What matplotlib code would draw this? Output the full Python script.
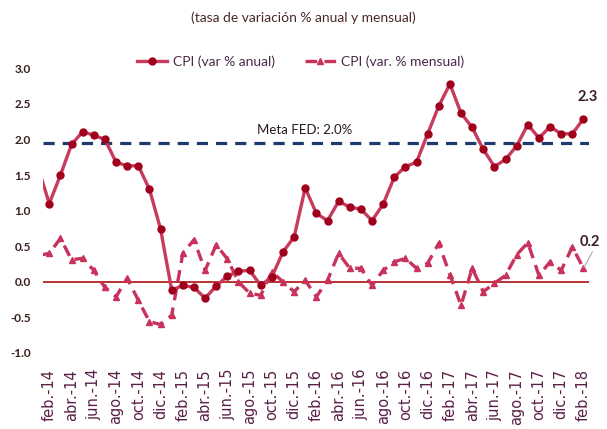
import numpy as np
import matplotlib
matplotlib.use('Agg')
import matplotlib.pyplot as plt

# month index: 0 = ene.-14 ... 49 = feb.-18
anual = [1.6, 1.1, 1.5, 1.93, 2.11, 2.06, 2.0, 1.68, 1.63, 1.63, 1.30, 0.74,
         -0.12, -0.05, -0.08, -0.23, -0.06, 0.08, 0.15, 0.16, -0.05, 0.07, 0.42, 0.63,
         1.32, 0.96, 0.86, 1.13, 1.05, 1.02, 0.86, 1.09, 1.47, 1.62, 1.68, 2.08,
         2.47, 2.78, 2.37, 2.17, 1.86, 1.62, 1.72, 1.91, 2.21, 2.02, 2.18, 2.08,
         2.08, 2.29]

mensual = [0.37, 0.40, 0.61, 0.31, 0.33, 0.16, -0.08, -0.21, 0.05, -0.26, -0.56, -0.60,
           -0.47, 0.40, 0.59, 0.16, 0.52, 0.32, 0.0, -0.16, -0.19, 0.14, 0.0, -0.14,
           0.02, -0.21, 0.02, 0.40, 0.19, 0.19, -0.05, 0.16, 0.28, 0.33, 0.19, 0.26,
           0.54, 0.10, -0.33, 0.19, -0.14, -0.02, 0.09, 0.38, 0.55, 0.09, 0.28, 0.16,
           0.49, 0.19]

meta_fed = 1.95

tick_labels = ['feb.-14', 'abr.-14', 'jun.-14', 'ago.-14', 'oct.-14', 'dic.-14',
               'feb.-15', 'abr.-15', 'jun.-15', 'ago.-15', 'oct.-15', 'dic.-15',
               'feb.-16', 'abr.-16', 'jun.-16', 'ago.-16', 'oct.-16', 'dic.-16',
               'feb.-17', 'abr.-17', 'jun.-17', 'ago.-17', 'oct.-17', 'dic.-17',
               'feb.-18']

x = np.arange(len(anual))
narrow = ['Lato', 'DejaVu Sans']

fig = plt.figure(figsize=(6.07, 4.29), dpi=100)
ax = fig.add_axes([43.3/607, 0.169, (589-43.3)/607, 0.680])

ax.axhline(0, color='#B22222', lw=1.3, zorder=1)
ax.axhline(meta_fed, color='#1F3A6E', lw=2.3, ls=(0, (3.5, 2.5)), zorder=1)

ax.plot(x, anual, color='#C63B5E', lw=2.4, marker='o', ms=5,
        mfc='#A0001C', mec='#A0001C', label='CPI (var % anual)', zorder=3)
ax.plot(x, mensual, color='#C8325C', lw=2.4, ls=(0, (3.5, 2.2)), marker='^', ms=4.5,
        mfc='#C8325C', mec='#C8325C', label='CPI (var. % mensual)', zorder=2)

ax.set_xlim(0.46, 49.5)
ax.set_ylim(-1.05, 3.05)
ax.set_yticks(np.arange(-1.0, 3.01, 0.5))
ax.set_yticklabels(['%.1f' % v for v in np.arange(-1.0, 3.01, 0.5)],
                   family=narrow, fontweight='bold', fontsize=8.5, color='#3A1F1F')
ax.set_xticks(x[1::2])
ax.set_xticklabels(tick_labels, rotation=90, fontsize=10.5, color='#5A2048')
ax.tick_params(axis='both', length=0)
ax.tick_params(axis='x', pad=9)
ax.tick_params(axis='y', pad=9)
for s in ax.spines.values():
    s.set_visible(False)

ax.text(23.9, 2.13, 'Meta FED: 2.0%', ha='center', va='center', family=narrow,
        fontsize=9.5, color='#2A1A1A')
ax.text(49.4, 2.6, '2.3', ha='center', va='center', family=narrow,
        fontsize=10.5, fontweight='bold', color='#3A1F1F', clip_on=False)
ax.text(49.6, 0.56, '0.2', ha='center', va='center', family=narrow,
        fontsize=10.5, fontweight='bold', color='#3A1F1F', clip_on=False)
ax.plot([49.05, 49.8], [0.2, 0.42], color='#AAAAAA', lw=0.8, clip_on=False)

fig.text(0.5, 1 - 18/429, '(tasa de variación % anual y mensual)', ha='center', va='center',
         family=narrow, fontsize=10, color='#4A2A2A')
leg = fig.legend(loc='center', bbox_to_anchor=(0.495, 1 - 62/429), ncol=2, frameon=False,
                 prop={'family': narrow, 'size': 10}, handlelength=2.2, columnspacing=2.2,
                 handletextpad=0.4)
for t in leg.get_texts():
    t.set_color('#4A2A4A')

fig.savefig('out.png', dpi=100)
